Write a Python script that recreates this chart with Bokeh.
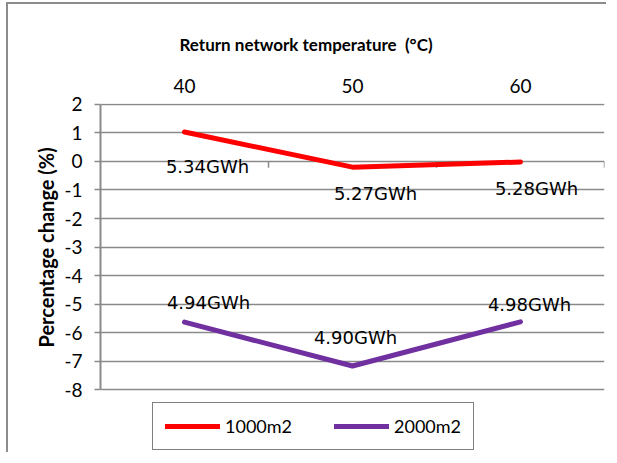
from bokeh.plotting import figure
from bokeh.models import Range1d, FixedTicker, ColumnDataSource, Legend, LegendItem, Title
from bokeh.core.properties import value
from bokeh.embed import file_html
from bokeh.resources import INLINE

# ---- data ----
categories = ["40", "50", "60"]
pct_1000 = [1.03, -0.20, -0.02]
pct_2000 = [-5.63, -7.17, -5.62]
labels_1000 = ["5.34GWh", "5.27GWh", "5.28GWh"]
labels_2000 = ["4.94GWh", "4.90GWh", "4.98GWh"]
y_ticks = [-8, -7, -6, -5, -4, -3, -2, -1, 0, 1, 2]

# ---- label placement (pixels) ----
dx_1000 = [23, 23, 16]
dy_1000 = [34, 26, 26]
dx_2000 = [24, 3, 9]
dy_2000 = [-20, -29, -17]

xs = [i + 1 for i in range(len(categories))]
bounds = [i + 1.5 for i in range(len(categories))]
y_lo, y_hi = min(y_ticks), max(y_ticks)

GRID = "#8a8a8a"

p = figure(width=600, height=450, output_backend="svg", toolbar_location=None,
           x_range=Range1d(0.5, len(categories) + 0.5), y_range=Range1d(-10.27, 2.03),
           x_axis_location="above",
           min_border_left=92, min_border_right=4, min_border_top=99, min_border_bottom=0)
p.outline_line_color = None
p.background_fill_color = "white"
p.border_fill_color = "white"
p.styles = {"border-top": "2px solid #8c8c8c", "border-left": "2px solid #8c8c8c",
            "margin-left": "6px", "margin-top": "2px"}

p.title = Title(text="Return network temperature\u00a0 (°C)", align="left", offset=79,
                text_font="Lato", text_font_style="bold", text_font_size="17px",
                text_color="black", standoff=42)

# top category axis
xa = p.xaxis[0]
xa.ticker = FixedTicker(ticks=xs)
xa.major_label_overrides = {x: c for x, c in zip(xs, categories)}
xa.axis_line_color = None
xa.major_tick_line_color = None
xa.minor_tick_line_color = None
xa.major_label_text_font = "Lato"
xa.major_label_text_font_size = "19px"
xa.major_label_text_color = "black"
xa.major_label_standoff = 5

ya = p.yaxis[0]
ya.ticker = FixedTicker(ticks=y_ticks)
ya.bounds = (y_lo, y_hi)
ya.major_label_overrides = {t: str(t) for t in y_ticks}
ya.axis_line_color = GRID
ya.axis_line_width = 2
ya.major_tick_line_color = GRID
ya.major_tick_line_width = 1.5
ya.major_tick_out = 6
ya.major_tick_in = 0
ya.minor_tick_line_color = None
ya.major_label_text_font = "Lato"
ya.major_label_text_font_size = "19px"
ya.major_label_text_color = "black"
ya.major_label_standoff = 12

ytitle = Title(text="Percentage change (%)", align="left", offset=107,
               text_font="Lato", text_font_style="bold", text_font_size="20px",
               text_color="black", standoff=8)
p.add_layout(ytitle, "left")

p.xgrid.grid_line_color = None
p.ygrid.ticker = FixedTicker(ticks=y_ticks)
p.ygrid.grid_line_color = GRID
p.ygrid.grid_line_width = 1.5

# tick marks on the zero line between categories
p.segment(x0=bounds, x1=bounds, y0=[0] * len(bounds), y1=[-0.22] * len(bounds),
          line_color=GRID, line_width=1.5)

r1 = p.line(xs, pct_1000, line_color="#ff0000", line_width=5, line_cap="round")
r2 = p.line(xs, pct_2000, line_color="#7030a0", line_width=5, line_cap="round")

src1 = ColumnDataSource(dict(x=xs, y=pct_1000, t=labels_1000, dx=dx_1000, dy=dy_1000))
src2 = ColumnDataSource(dict(x=xs, y=pct_2000, t=labels_2000, dx=dx_2000, dy=dy_2000))
for s in (src1, src2):
    p.text(x="x", y="y", text="t", x_offset="dx", y_offset="dy", source=s,
           text_align="center", text_baseline="middle",
           text_font=value("DejaVu Sans"), text_font_size="18px", text_color="black")

legend = Legend(items=[LegendItem(label="1000m2", renderers=[r1]),
                       LegendItem(label="2000m2", renderers=[r2])],
                orientation="horizontal", location=(52, 4))
legend.margin = 0
legend.border_line_color = "black"
legend.border_line_width = 1.5
legend.padding = 12
legend.spacing = 42
legend.glyph_width = 55
legend.glyph_height = 20
legend.label_standoff = 5
legend.label_text_font = "Lato"
legend.label_text_font_size = "18px"
legend.label_text_color = "black"
legend.background_fill_alpha = 1
p.add_layout(legend, "center")

open("out.html", "w").write(file_html(p, INLINE))
